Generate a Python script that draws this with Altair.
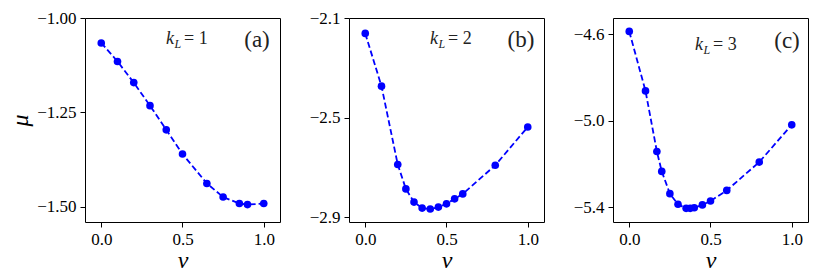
import altair as alt
import pandas as pd

# ---- data ----
v_a = [0.0, 0.1, 0.2, 0.3, 0.4, 0.5, 0.65, 0.75, 0.85, 0.9, 1.0]
mu_a = [-1.066, -1.115, -1.171, -1.232, -1.296, -1.360, -1.438, -1.474, -1.491, -1.494, -1.491]

v_b = [0.0, 0.1, 0.2, 0.25, 0.3, 0.35, 0.4, 0.45, 0.5, 0.55, 0.6, 0.8, 1.0]
mu_b = [-2.162, -2.374, -2.689, -2.787, -2.840, -2.864, -2.868, -2.860, -2.847, -2.827, -2.807, -2.692, -2.538]

v_c = [0.0, 0.1, 0.17, 0.2, 0.25, 0.3, 0.35, 0.375, 0.4, 0.45, 0.5, 0.6, 0.8, 1.0]
mu_c = [-4.588, -4.863, -5.143, -5.235, -5.338, -5.387, -5.406, -5.406, -5.403, -5.390, -5.372, -5.323, -5.192, -5.020]

x_ticks = [0.0, 0.5, 1.0]
y_ticks_a = [-1.00, -1.25, -1.50]
y_ticks_b = [-2.1, -2.5, -2.9]
y_ticks_c = [-4.6, -5.0, -5.4]
tags = ["(a)", "(b)", "(c)"]
k_values = ["1", "2", "3"]

FONT = "'Liberation Serif', 'DejaVu Serif', serif"
BLUE = "#0000ff"
W, H = 195, 204


def panel(v, mu, ydom, yticks, yfmt, ytitle, tag, k, kx, ky, tagx, tagy):
    df = pd.DataFrame({"v": v, "mu": mu})
    x = alt.X("v:Q", scale=alt.Scale(domain=[-0.1, 1.1], nice=False, zero=False),
              axis=alt.Axis(values=x_ticks, format=".1f", title="v", titlePadding=1,
                            titleFontSize=24))
    lab = "replace(format(datum.value, '%s'), '-', '\u2212\u2009')" % yfmt
    if ytitle:
        yaxis = alt.Axis(values=yticks, labelExpr=lab, title=ytitle, titlePadding=4,
                         titleFontSize=24)
    else:
        yaxis = alt.Axis(values=yticks, labelExpr=lab, title=None)
    y = alt.Y("mu:Q", scale=alt.Scale(domain=ydom, nice=False, zero=False), axis=yaxis)
    base = alt.Chart(df)
    line = base.mark_line(color=BLUE, strokeDash=[6, 3], strokeWidth=1.8).encode(x=x, y=y)
    pts = base.mark_circle(color=BLUE, size=58, opacity=1).encode(x=x, y=y)

    tdf = pd.DataFrame({"tag": [tag], "k": ["k"], "L": ["L"], "eq": ["= " + k]})
    tb = alt.Chart(tdf)
    t_tag = tb.mark_text(font=FONT, fontSize=23, color="#222", align="center", baseline="middle").encode(
        text="tag:N", x=alt.value(tagx), y=alt.value(tagy))
    t_k = tb.mark_text(font=FONT, fontSize=18, fontStyle="italic", color="#222", align="left",
                       baseline="alphabetic").encode(text="k:N", x=alt.value(kx), y=alt.value(ky))
    t_L = tb.mark_text(font=FONT, fontSize=12, fontStyle="italic", color="#222", align="left",
                       baseline="alphabetic").encode(text="L:N", x=alt.value(kx + 8.5), y=alt.value(ky + 4))
    t_eq = tb.mark_text(font=FONT, fontSize=18, color="#222", align="left",
                        baseline="alphabetic").encode(text="eq:N", x=alt.value(kx + 18), y=alt.value(ky))
    return alt.layer(line, pts, t_tag, t_k, t_L, t_eq).properties(width=W, height=H)


pa = panel(v_a, mu_a, [-1.54, -1.0], y_ticks_a, ".2f", "μ", tags[0], k_values[0], 81, 26, 172, 22)
pb = panel(v_b, mu_b, [-2.92, -2.1], y_ticks_b, ".1f", None, tags[1], k_values[1], 81, 26, 172, 22)
pc = panel(v_c, mu_c, [-5.469, -4.526], y_ticks_c, ".1f", None, tags[2], k_values[2], 82, 32, 174, 23)

chart = alt.hconcat(pa, pb, pc, spacing=69, bounds="flush").properties(
    padding={"left": 0, "top": 0, "right": 0, "bottom": 0}
).configure_view(stroke="black", strokeWidth=1).configure_axis(
    labelFont=FONT, labelFontSize=17, labelColor="black",
    titleFont=FONT, titleFontSize=26, titleFontStyle="italic", titleFontWeight="normal",
    titleColor="black", grid=False, domain=False, tickColor="black", tickSize=5,
    labelPadding=4
)

chart.save("out.html", embed_options={"renderer": "svg", "actions": False})
